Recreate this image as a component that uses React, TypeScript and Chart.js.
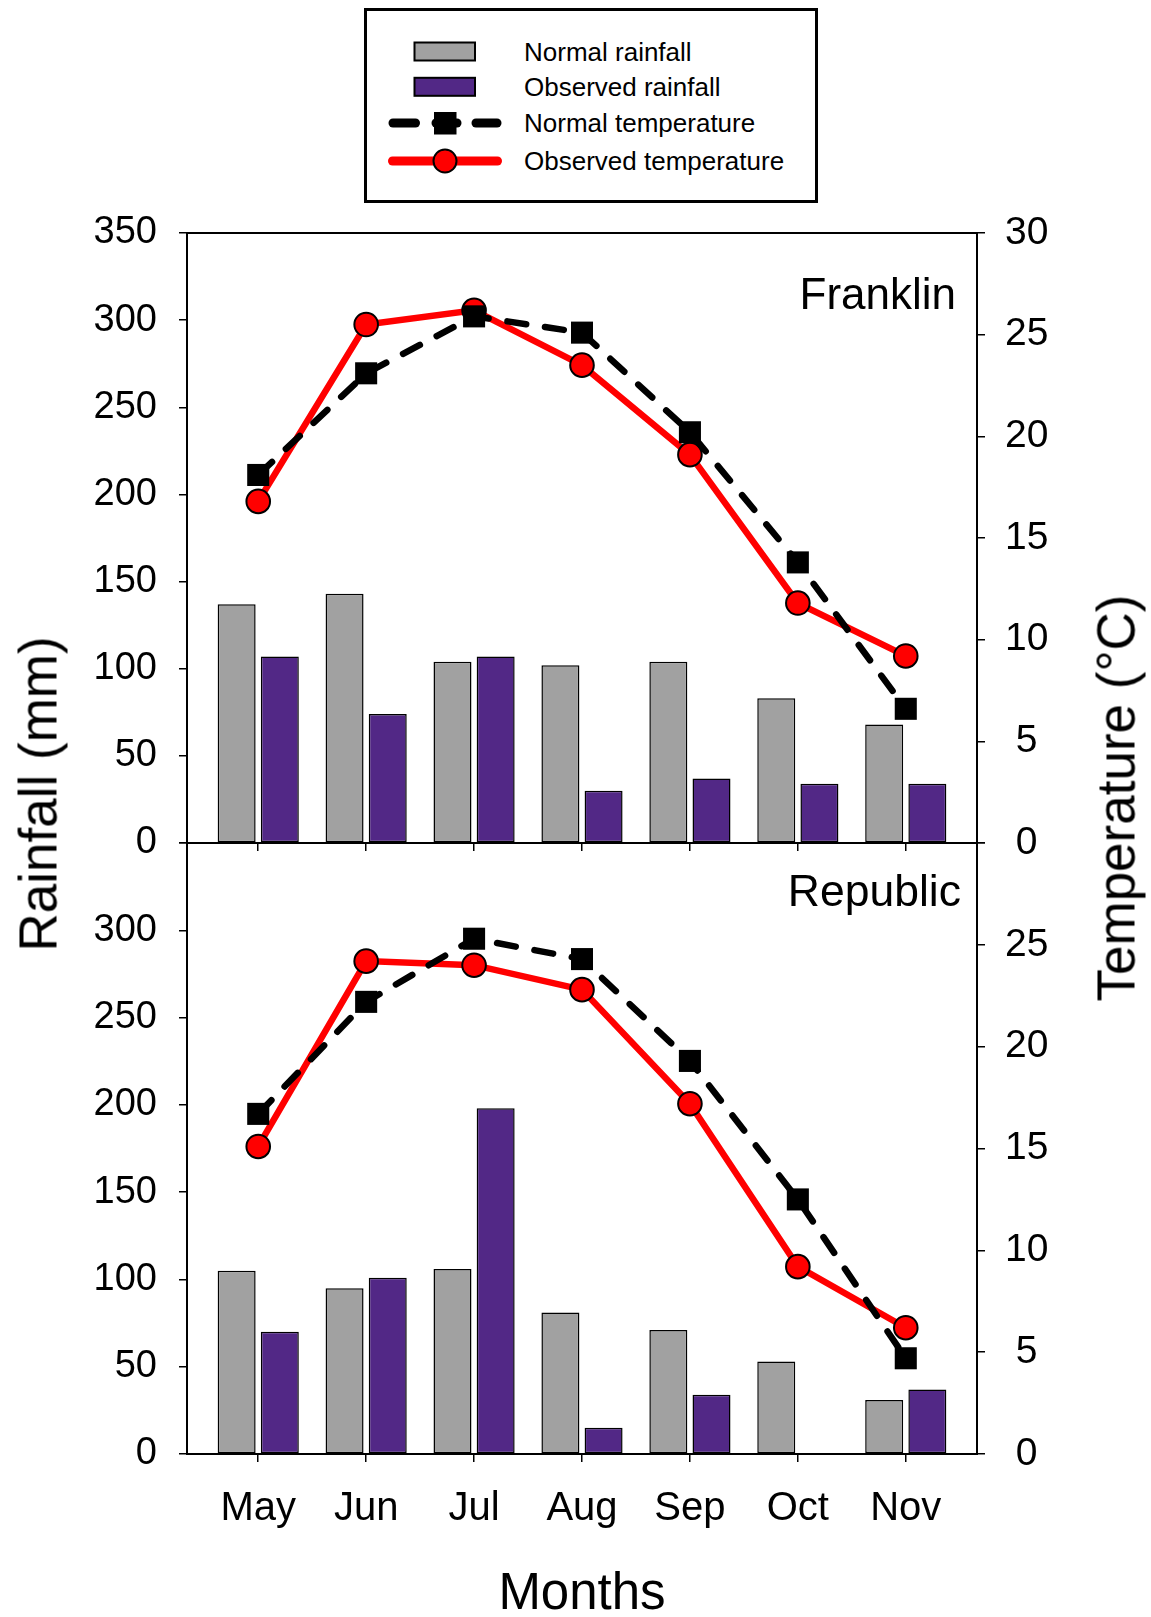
import React, { useEffect, useRef } from 'react';
import { Chart, registerables } from 'chart.js';

Chart.register(...registerables);

const FONT = "'Liberation Sans', Arial, Helvetica, sans-serif";

// Months shown on the x axis
const months = ['May', 'Jun', 'Jul', 'Aug', 'Sep', 'Oct', 'Nov'];

// Franklin: rainfall (mm) and mean temperature (°C)
const franklinNormalRain = [137, 143, 104, 102, 104, 83, 68];
const franklinObservedRain = [107, 74, 107, 30, 37, 34, 34];
const franklinNormalTemp = [18.1, 23.1, 25.9, 25.1, 20.2, 13.8, 6.6];
const franklinObservedTemp = [16.8, 25.5, 26.2, 23.5, 19.1, 11.8, 9.2];

// Republic: rainfall (mm) and mean temperature (°C)
const republicNormalRain = [105, 95, 106, 81, 71, 53, 31];
const republicObservedRain = [70, 101, 198, 15, 34, 0.5, 37];
const republicNormalTemp = [16.7, 22.2, 25.3, 24.3, 19.3, 12.5, 4.7];
const republicObservedTemp = [15.1, 24.2, 24.0, 22.8, 17.2, 9.2, 6.2];

// Axis ranges
const rainMax = 350;
const rainStep = 50;
const tempMax = 30;
const tempStep = 5;

const GRAY = '#a1a1a1';
const PURPLE = '#522886';
const RED = '#ff0000';

const PAGE_W = 1151;
const PLOT_LEFT = 187;
const PLOT_RIGHT = 977;

// Outline the whole plotting area
const framePlugin = {
  id: 'frame',
  afterDatasetsDraw(chart: any) {
    const { ctx, chartArea: a } = chart;
    ctx.save();
    ctx.strokeStyle = '#000';
    ctx.lineWidth = 2;
    ctx.strokeRect(a.left, a.top, a.right - a.left, a.bottom - a.top);
    ctx.restore();
  },
};

type PanelProps = {
  normalRain: number[];
  observedRain: number[];
  normalTemp: number[];
  observedTemp: number[];
  showMonths: boolean;
  hideTopLabels: boolean;
  padTop: number;
  xAxisHeight: number;
};

function panelConfig(p: PanelProps): any {
  const pts = (vals: number[]) => vals.map((y, i) => ({ x: i, y }));
  const tickFont = { family: FONT, size: 38 };
  // the plot area is fixed by the layout padding and the axis sizes
  const fixVertical = (width: number) => (s: any) => {
    s.width = width;
    s.paddingTop = 0;
    s.paddingBottom = 0;
  };
  return {
    type: 'bar',
    data: {
      datasets: [
        {
          type: 'line',
          label: 'Normal temperature',
          data: pts(p.normalTemp),
          yAxisID: 'y1',
          order: 1,
          borderColor: '#000',
          borderWidth: 6.5,
          borderDash: [19, 19],
          borderCapStyle: 'round',
          pointStyle: 'rect',
          pointRadius: 15.6,
          pointBackgroundColor: '#000',
          pointBorderColor: '#000',
          pointBorderWidth: 0,
          tension: 0,
          fill: false,
          clip: false,
        },
        {
          type: 'line',
          label: 'Observed temperature',
          data: pts(p.observedTemp),
          yAxisID: 'y1',
          order: 2,
          borderColor: RED,
          borderWidth: 6.5,
          pointStyle: 'circle',
          pointRadius: 11.8,
          pointBackgroundColor: RED,
          pointBorderColor: '#000',
          pointBorderWidth: 2,
          tension: 0,
          fill: false,
          clip: false,
        },
        {
          type: 'bar',
          label: 'Normal rainfall',
          data: pts(p.normalRain),
          yAxisID: 'y',
          order: 3,
          backgroundColor: GRAY,
          borderColor: '#000',
          borderWidth: 1.5,
          borderSkipped: false,
          categoryPercentage: 0.8,
          barPercentage: 0.88,
        },
        {
          type: 'bar',
          label: 'Observed rainfall',
          data: pts(p.observedRain),
          yAxisID: 'y',
          order: 3,
          backgroundColor: PURPLE,
          borderColor: '#000',
          borderWidth: 1.5,
          borderSkipped: false,
          categoryPercentage: 0.8,
          barPercentage: 0.88,
        },
      ],
    },
    options: {
      responsive: false,
      animation: false,
      events: [],
      layout: { padding: { top: p.padTop, left: 0, right: 0, bottom: 0 } },
      plugins: { legend: { display: false }, tooltip: { enabled: false } },
      scales: {
        x: {
          type: 'linear',
          position: 'bottom',
          min: -0.66,
          max: 6.66,
          offset: false,
          afterBuildTicks: (s: any) => {
            s.ticks = months.map((_, i) => ({ value: i }));
          },
          afterFit: (s: any) => {
            s.height = p.xAxisHeight;
            s.paddingLeft = 0;
            s.paddingRight = 0;
          },
          grid: { drawOnChartArea: false, drawTicks: true, tickLength: 8, color: '#000', lineWidth: 1.5, offset: false },
          border: { display: true, color: '#000', width: 2 },
          ticks: {
            display: p.showMonths,
            autoSkip: false,
            maxRotation: 0,
            padding: 23,
            color: '#000',
            font: { family: FONT, size: 40 },
            callback: (v: number) => months[v] ?? '',
          },
        },
        y: {
          type: 'linear',
          position: 'left',
          min: 0,
          max: rainMax,
          afterFit: fixVertical(PLOT_LEFT),
          grid: { drawOnChartArea: false, drawTicks: true, tickLength: 8, color: '#000', lineWidth: 1.5 },
          border: { display: true, color: '#000', width: 2 },
          ticks: {
            stepSize: rainStep,
            padding: 22,
            color: '#000',
            font: tickFont,
            callback: (v: number) => (p.hideTopLabels && v === rainMax ? '' : String(v)),
          },
        },
        y1: {
          type: 'linear',
          position: 'right',
          min: 0,
          max: tempMax,
          afterFit: fixVertical(PAGE_W - PLOT_RIGHT),
          grid: { drawOnChartArea: false, drawTicks: true, tickLength: 8, color: '#000', lineWidth: 1.5 },
          border: { display: true, color: '#000', width: 2 },
          ticks: {
            stepSize: tempStep,
            padding: 20,
            crossAlign: 'center',
            color: '#000',
            font: { family: FONT, size: 39 },
            callback: (v: number) => (p.hideTopLabels && v === tempMax ? '' : String(v)),
          },
        },
      },
    },
    plugins: [framePlugin],
  };
}

function Panel(props: PanelProps & { top: number; height: number }) {
  const ref = useRef<HTMLCanvasElement>(null);
  useEffect(() => {
    if (!ref.current) return;
    const chart = new Chart(ref.current, panelConfig(props));
    return () => chart.destroy();
  }, []);
  return (
    <canvas
      ref={ref}
      width={PAGE_W}
      height={props.height}
      style={{ position: 'absolute', left: 0, top: props.top, width: PAGE_W, height: props.height }}
    />
  );
}

const textBase: React.CSSProperties = {
  position: 'absolute',
  fontFamily: FONT,
  color: '#000',
  lineHeight: 1,
  whiteSpace: 'nowrap',
};

function Legend() {
  const rowText = (label: string, cy: number) => (
    <div style={{ ...textBase, left: 524, top: cy - 12.7, fontSize: 26 }}>{label}</div>
  );
  return (
    <>
      <div
        style={{
          position: 'absolute',
          left: 364,
          top: 8,
          width: 454,
          height: 195,
          boxSizing: 'border-box',
          border: '3px solid #000',
        }}
      />
      <svg style={{ position: 'absolute', left: 0, top: 0 }} width={PAGE_W} height={210}>
        <rect x={414.5} y={42.5} width={60.5} height={18} fill={GRAY} stroke="#000" strokeWidth={2} />
        <rect x={414.5} y={77.8} width={60.5} height={18} fill={PURPLE} stroke="#000" strokeWidth={2} />
        <g stroke="#000" strokeWidth={9} strokeLinecap="round">
          <line x1={393} y1={123} x2={415.5} y2={123} />
          <line x1={436} y1={123} x2={457} y2={123} />
          <line x1={476} y1={123} x2={497} y2={123} />
        </g>
        <rect x={434} y={112} width={22.5} height={22.5} fill="#000" />
        <line x1={392.5} y1={161} x2={497.5} y2={161} stroke={RED} strokeWidth={9} strokeLinecap="round" />
        <circle cx={445} cy={161} r={11.5} fill={RED} stroke="#000" strokeWidth={2} />
      </svg>
      {rowText('Normal rainfall', 51.3)}
      {rowText('Observed rainfall', 86.7)}
      {rowText('Normal temperature', 123)}
      {rowText('Observed temperature', 160.2)}
    </>
  );
}

export default function App() {
  return (
    <div style={{ position: 'absolute', left: 0, top: 0, width: PAGE_W, height: 1617, background: '#fff', overflow: 'hidden' }}>
      <Legend />
      <Panel
        top={200}
        height={680}
        normalRain={franklinNormalRain}
        observedRain={franklinObservedRain}
        normalTemp={franklinNormalTemp}
        observedTemp={franklinObservedTemp}
        showMonths={false}
        hideTopLabels={false}
        padTop={33}
        xAxisHeight={37}
      />
      <Panel
        top={815}
        height={802}
        normalRain={republicNormalRain}
        observedRain={republicObservedRain}
        normalTemp={republicNormalTemp}
        observedTemp={republicObservedTemp}
        showMonths={true}
        hideTopLabels={true}
        padTop={28}
        xAxisHeight={163}
      />
      <div style={{ ...textBase, right: PAGE_W - 956, top: 272, fontSize: 44 }}>Franklin</div>
      <div style={{ ...textBase, right: PAGE_W - 961, top: 869, fontSize: 44.5 }}>Republic</div>
      <div
        style={{
          ...textBase,
          left: 38,
          top: 794,
          fontSize: 53,
          transform: 'translate(-50%, -50%) rotate(-90deg)',
        }}
      >
        Rainfall (mm)
      </div>
      <div
        style={{
          ...textBase,
          left: 1116,
          top: 798,
          fontSize: 53,
          transform: 'translate(-50%, -50%) rotate(-90deg)',
        }}
      >
        Temperature (°C)
      </div>
      <div style={{ ...textBase, left: 582, top: 1566, fontSize: 51, transform: 'translateX(-50%)' }}>Months</div>
    </div>
  );
}
